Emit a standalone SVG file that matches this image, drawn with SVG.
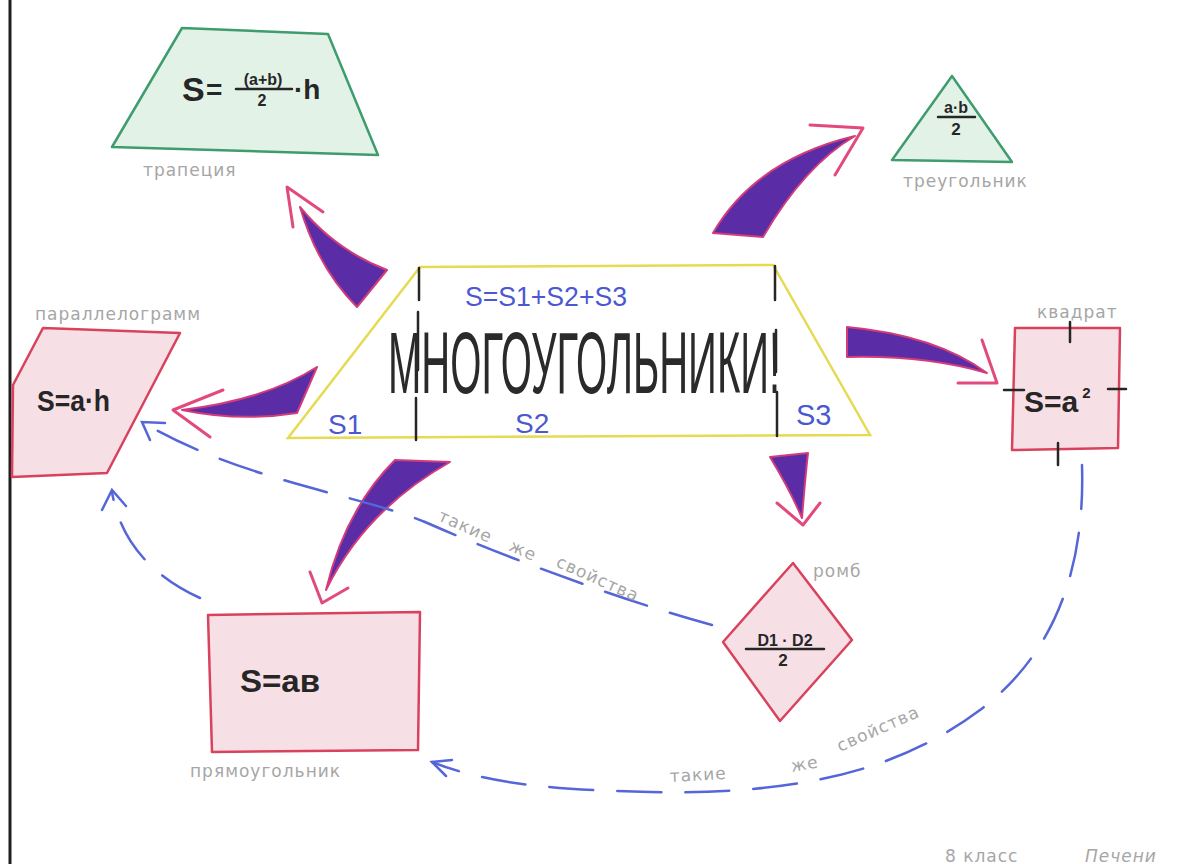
<svg xmlns="http://www.w3.org/2000/svg" width="1178" height="864" viewBox="0 0 1178 864">
<style>
.green{fill:#e2f2e7;stroke:#3f9c6e;stroke-width:2.5;stroke-linejoin:round}
.pink{fill:#f7dfe6;stroke:#d9425c;stroke-width:2.5;stroke-linejoin:round}
.lbl{font-family:"DejaVu Sans",sans-serif;fill:#a6a6a6;font-size:17px;letter-spacing:1px}
.frm{font-family:"Liberation Sans",sans-serif;fill:#262626;font-weight:bold}
.blue{font-family:"Liberation Sans",sans-serif;fill:#4b58d2}
.parr{fill:#5a2ca6;stroke:#d23c7a;stroke-width:2;stroke-linejoin:round}
.head{fill:none;stroke:#e24a7c;stroke-width:3;stroke-linecap:round;stroke-linejoin:round}
.dash{fill:none;stroke:#5566d8;stroke-width:2.5;stroke-dasharray:44 24;stroke-linecap:round}
.bhead{fill:none;stroke:#5566d8;stroke-width:2.5;stroke-linecap:round}
.ink{stroke:#262626;stroke-width:2.5;stroke-linecap:round}
</style>
<rect width="1178" height="864" fill="#ffffff"/>
<line x1="10" y1="0" x2="10" y2="864" stroke="#1e1e1e" stroke-width="3"/>

<g id="connectors">
  <path class="parr" d="M387,270 Q335,250 300,207 Q318,268 357,307 Z"/>
  <path class="head" d="M323,212 L287,187 L293,227"/>
  <path class="parr" d="M713,233 Q755,160 855,136 Q805,165 763,237 Z"/>
  <path class="head" d="M810,125 L863,128 L835,175"/>
  <path class="parr" d="M317,367 Q265,400 182,410 Q240,422 297,413 Z"/>
  <path class="head" d="M223,390 L173,410 L210,437"/>
  <path class="parr" d="M847,327 Q935,335 987,373 Q925,355 847,357 Z"/>
  <path class="head" d="M982,340 L997,383 L958,383"/>
  <path class="parr" d="M395,460 Q345,510 326,590 Q365,510 450,462 Z"/>
  <path class="head" d="M310,572 L322,603 L348,588"/>
  <path class="parr" d="M770,457 Q790,490 802,518 Q805,480 808,453 Z"/>
  <path class="head" d="M777,503 L803,525 L820,503"/>

  <path class="dash" d="M712,625 C620,600 500,555 425,522 C360,495 240,480 142,422"/>
  <path class="bhead" d="M165,423 L142,422 L150,440"/>
  <path class="dash" d="M200,598 C150,575 120,540 112,492"/>
  <path class="bhead" d="M102,510 L112,490 L126,506"/>
  <path class="dash" d="M1082,465 C1085,560 1060,650 980,710 C900,770 800,795 650,792 C560,790 490,785 432,762"/>
  <path class="bhead" d="M452,760 L432,762 L446,776"/>

  <text class="lbl" transform="translate(437,520) rotate(24)" font-size="16">такие</text>
  <text class="lbl" transform="translate(508,550) rotate(24)" font-size="16">же</text>
  <text class="lbl" transform="translate(555,566) rotate(24)" font-size="16">свойства</text>
  <text class="lbl" transform="translate(670,782) rotate(-3)" font-size="20" letter-spacing="5">такие</text>
  <text class="lbl" transform="translate(792,772) rotate(-10)" font-size="20">же</text>
  <text class="lbl" transform="translate(840,752) rotate(-24)" font-size="18">свойства</text>
</g>

<g id="polygons">
  <polygon fill="#ffffff" stroke="#e6da52" stroke-width="2.5" points="420,267 773,265 870,435 288,438"/>
  <g class="ink">
    <line x1="419" y1="268" x2="419" y2="300"/>
    <line x1="418" y1="312" x2="418" y2="370"/>
    <line x1="416" y1="398" x2="416" y2="440"/>
    <line x1="775" y1="266" x2="775" y2="300"/>
    <line x1="776" y1="330" x2="776" y2="372"/>
    <line x1="777" y1="392" x2="777" y2="436"/>
  </g>
  <text class="blue" x="465" y="306" font-size="28" textLength="162" lengthAdjust="spacingAndGlyphs">S=S1+S2+S3</text>
  <text transform="translate(388,393) scale(0.455,1)" font-family="Liberation Sans,sans-serif" font-size="88" fill="#2a2a2a">МНОГОУГОЛЬНИКИ!</text>
  <text class="blue" x="328" y="434" font-size="28">S1</text>
  <text class="blue" x="515" y="433" font-size="28">S2</text>
  <text class="blue" x="796" y="425" font-size="29">S3</text>
</g>

<g id="trapezoid">
  <polygon class="green" points="182,28 328,34 378,155 112,147"/>
  <text class="frm" x="182" y="101" font-size="34">S</text>
  <text class="frm" x="206" y="99" font-size="28">=</text>
  <text class="frm" x="263" y="85" font-size="16" text-anchor="middle">(a+b)</text>
  <line class="ink" x1="236" y1="89" x2="292" y2="89"/>
  <text class="frm" x="262" y="106" font-size="16" text-anchor="middle">2</text>
  <text class="frm" x="294" y="99" font-size="28">·h</text>
  <text class="lbl" x="143" y="176" font-size="20">трапеция</text>
</g>

<g id="triangle">
  <polygon class="green" points="952,76 1012,162 892,160"/>
  <text class="frm" x="956" y="113" font-size="16" text-anchor="middle">a·b</text>
  <line class="ink" x1="938" y1="117" x2="975" y2="117"/>
  <text class="frm" x="956" y="135" font-size="17" text-anchor="middle">2</text>
  <text class="lbl" x="903" y="187" font-size="18">треугольник</text>
</g>

<g id="parallelogram">
  <polygon class="pink" points="43,328 180,333 107,473 12,477 13,385"/>
  <text class="frm" x="37" y="411" font-size="30" font-weight="normal" textLength="73" lengthAdjust="spacingAndGlyphs">S=a·h</text>
  <text class="lbl" x="35" y="320" font-size="16">параллелограмм</text>
</g>

<g id="square">
  <polygon class="pink" points="1015,328 1120,328 1118,448 1012,450"/>
  <g class="ink">
    <line x1="1070" y1="322" x2="1070" y2="342"/>
    <line x1="1058" y1="443" x2="1058" y2="465"/>
    <line x1="1004" y1="390" x2="1024" y2="390"/>
    <line x1="1108" y1="389" x2="1126" y2="389"/>
  </g>
  <text class="frm" x="1024" y="412" font-size="30" font-weight="normal">S=a<tspan dx="4" dy="-14" font-size="15" font-weight="bold">2</tspan></text>
  <text class="lbl" x="1037" y="318" font-size="15">квадрат</text>
</g>

<g id="rhombus">
  <polygon class="pink" points="793,563 852,640 780,721 723,642"/>
  <text class="frm" x="785" y="646" font-size="16" text-anchor="middle">D1 · D2</text>
  <line class="ink" x1="746" y1="649" x2="824" y2="649"/>
  <text class="frm" x="783" y="666" font-size="17" text-anchor="middle">2</text>
  <text class="lbl" x="813" y="577" font-size="17">ромб</text>
</g>

<g id="rectangle">
  <polygon class="pink" points="208,615 420,612 418,750 212,752"/>
  <text class="frm" x="240" y="692" font-size="32" font-weight="normal" textLength="80" lengthAdjust="spacingAndGlyphs">S=aв</text>
  <text class="lbl" x="190" y="777" font-size="20">прямоугольник</text>
</g>

<g id="signature">
  <text class="lbl" x="945" y="862" font-size="20" letter-spacing="2">8 класс</text>
  <text class="lbl" x="1085" y="862" font-size="22" font-style="italic">Печени</text>
</g>
</svg>
